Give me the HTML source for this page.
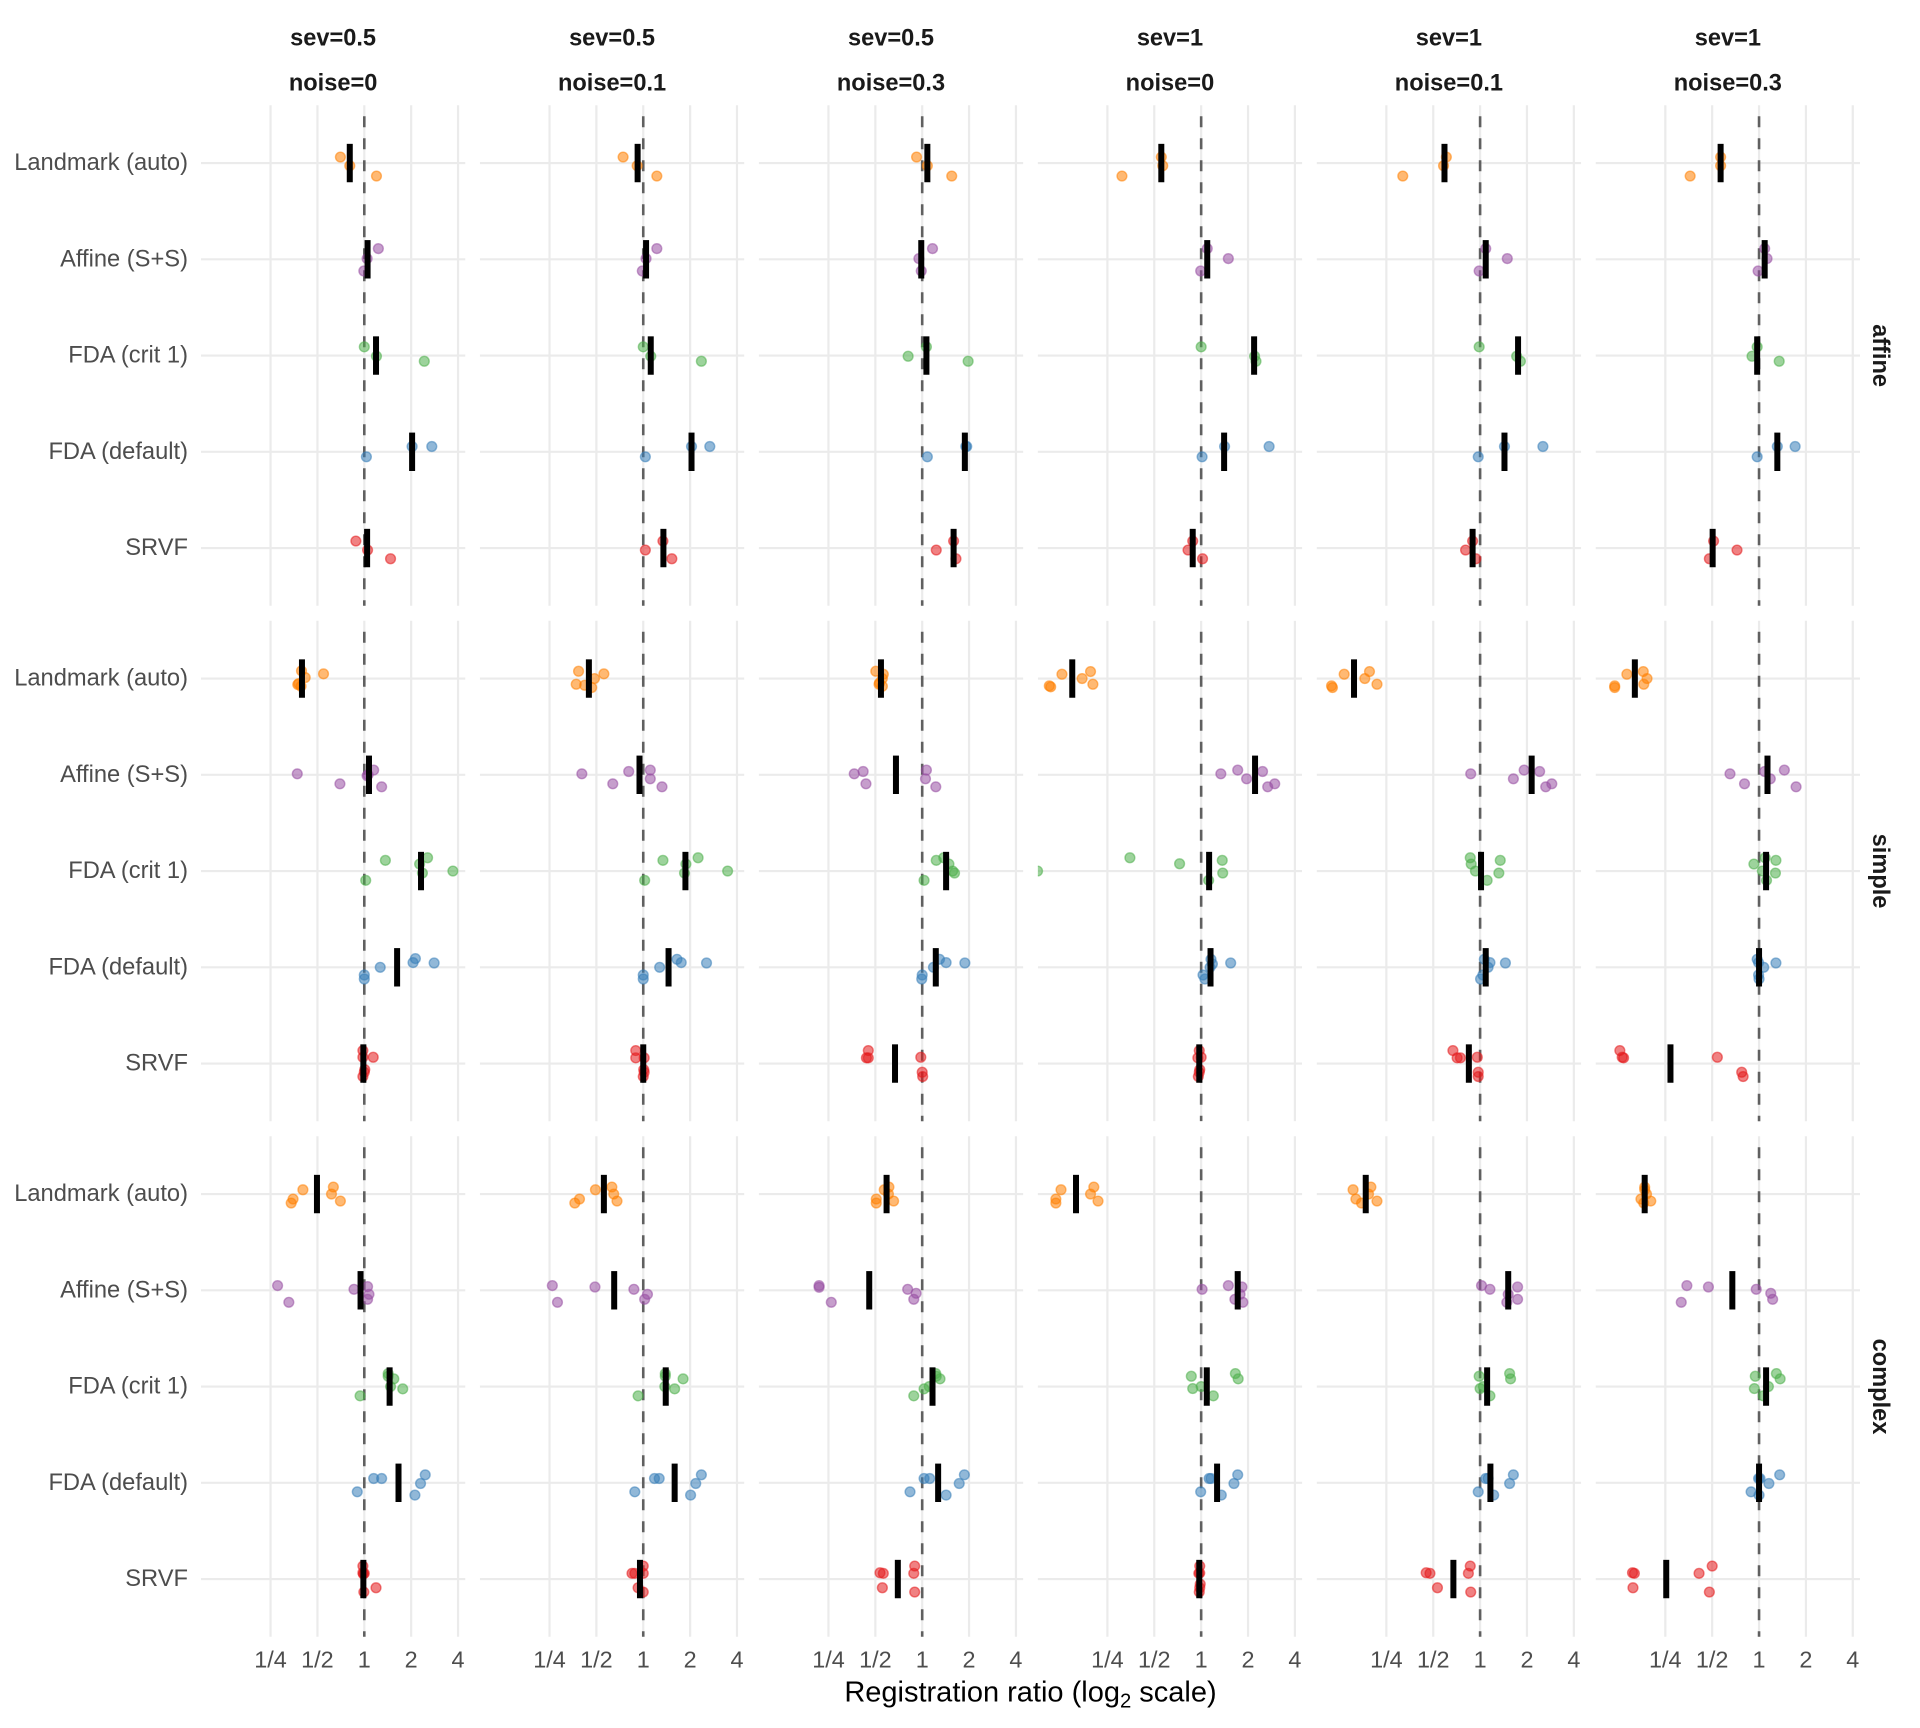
<!DOCTYPE html>
<html>
<head>
<meta charset="utf-8">
<style>
html,body{margin:0;padding:0;background:#fff;}
svg{display:block;font-family:"Liberation Sans",Arial,sans-serif;}
.o{fill:#FF7F00;stroke:#FF7F00;}
.p{fill:#984EA3;stroke:#984EA3;}
.g{fill:#4DAF4A;stroke:#4DAF4A;}
.bl{fill:#377EB8;stroke:#377EB8;}
.r{fill:#E41A1C;stroke:#E41A1C;}
.o,.p,.g,.bl,.r{fill-opacity:.55;stroke-opacity:.55;}
.st{font-weight:bold;font-size:23.6px;fill:#1A1A1A;}
.yl{font-size:23.7px;fill:#4D4D4D;}
.tk{font-size:23.4px;fill:#4D4D4D;}
</style>
</head>
<body>
<svg width="1920" height="1728" viewBox="0 0 1920 1728" xmlns="http://www.w3.org/2000/svg">
<rect width="1920" height="1728" fill="#fff"/>
<defs>
<g id="pg">
<g stroke="#EBEBEB" stroke-width="2.2">
<line x1="-93.74" y1="0" x2="-93.74" y2="500.5"/>
<line x1="-46.87" y1="0" x2="-46.87" y2="500.5"/>
<line x1="0" y1="0" x2="0" y2="500.5"/>
<line x1="46.87" y1="0" x2="46.87" y2="500.5"/>
<line x1="93.74" y1="0" x2="93.74" y2="500.5"/>
<line x1="-163.3" y1="57.75" x2="100.95" y2="57.75"/>
<line x1="-163.3" y1="154" x2="100.95" y2="154"/>
<line x1="-163.3" y1="250.25" x2="100.95" y2="250.25"/>
<line x1="-163.3" y1="346.5" x2="100.95" y2="346.5"/>
<line x1="-163.3" y1="442.75" x2="100.95" y2="442.75"/>
</g>
<line x1="0" y1="0" x2="0" y2="500.5" stroke="#606060" stroke-width="2.6" stroke-dasharray="11 11" stroke-dashoffset="11"/>
</g>
<ellipse id="d" cx="0" cy="0" rx="0.1045" ry="4.9" stroke-width="1.4" vector-effect="non-scaling-stroke"/>
<rect id="b" x="-0.064" y="-19.2" width="0.128" height="38.4" fill="#000"/>
<clipPath id="clp"><rect x="1037.85" y="620.8" width="264.25" height="500.5"/></clipPath>
</defs>

<!-- top strips -->
<g class="st" text-anchor="middle" dominant-baseline="central">
<text x="333.1" y="38.3">sev=0.5</text><text x="333.1" y="83.4">noise=0</text>
<text x="612.05" y="38.3">sev=0.5</text><text x="612.05" y="83.4">noise=0.1</text>
<text x="891" y="38.3">sev=0.5</text><text x="891" y="83.4">noise=0.3</text>
<text x="1169.95" y="38.3">sev=1</text><text x="1169.95" y="83.4">noise=0</text>
<text x="1448.9" y="38.3">sev=1</text><text x="1448.9" y="83.4">noise=0.1</text>
<text x="1727.85" y="38.3">sev=1</text><text x="1727.85" y="83.4">noise=0.3</text>
</g>

<!-- right strips -->
<g class="st" text-anchor="middle" dominant-baseline="central">
<text x="1880" y="355.55" transform="rotate(90 1880 355.55)">affine</text>
<text x="1880" y="871.05" transform="rotate(90 1880 871.05)">simple</text>
<text x="1880" y="1386.55" transform="rotate(90 1880 1386.55)">complex</text>
</g>

<!-- y labels -->
<g class="yl" text-anchor="end" dominant-baseline="central">
<text x="188" y="163.05">Landmark (auto)</text>
<text x="188" y="259.3">Affine (S+S)</text>
<text x="188" y="355.55">FDA (crit 1)</text>
<text x="188" y="451.8">FDA (default)</text>
<text x="188" y="548.05">SRVF</text>
<text x="188" y="678.55">Landmark (auto)</text>
<text x="188" y="774.8">Affine (S+S)</text>
<text x="188" y="871.05">FDA (crit 1)</text>
<text x="188" y="967.3">FDA (default)</text>
<text x="188" y="1063.55">SRVF</text>
<text x="188" y="1194.05">Landmark (auto)</text>
<text x="188" y="1290.3">Affine (S+S)</text>
<text x="188" y="1386.55">FDA (crit 1)</text>
<text x="188" y="1482.8">FDA (default)</text>
<text x="188" y="1579.05">SRVF</text>
</g>

<!-- x tick labels -->
<g class="tk" text-anchor="middle" dominant-baseline="central">
<text x="270.56" y="1659.5">1/4</text><text x="317.43" y="1659.5">1/2</text><text x="364.3" y="1659.5">1</text><text x="411.17" y="1659.5">2</text><text x="458.04" y="1659.5">4</text>
<text x="549.51" y="1659.5">1/4</text><text x="596.38" y="1659.5">1/2</text><text x="643.25" y="1659.5">1</text><text x="690.12" y="1659.5">2</text><text x="736.99" y="1659.5">4</text>
<text x="828.46" y="1659.5">1/4</text><text x="875.33" y="1659.5">1/2</text><text x="922.2" y="1659.5">1</text><text x="969.07" y="1659.5">2</text><text x="1015.94" y="1659.5">4</text>
<text x="1107.41" y="1659.5">1/4</text><text x="1154.28" y="1659.5">1/2</text><text x="1201.15" y="1659.5">1</text><text x="1248.02" y="1659.5">2</text><text x="1294.89" y="1659.5">4</text>
<text x="1386.36" y="1659.5">1/4</text><text x="1433.23" y="1659.5">1/2</text><text x="1480.1" y="1659.5">1</text><text x="1526.97" y="1659.5">2</text><text x="1573.84" y="1659.5">4</text>
<text x="1665.31" y="1659.5">1/4</text><text x="1712.18" y="1659.5">1/2</text><text x="1759.05" y="1659.5">1</text><text x="1805.92" y="1659.5">2</text><text x="1852.79" y="1659.5">4</text>
</g>

<!-- x title -->
<text x="1030.5" y="1701.5" text-anchor="middle" font-size="29" fill="#000">Registration ratio (log<tspan font-size="20.3" dy="6">2</tspan><tspan dy="-6"> scale)</tspan></text>

<!-- ===== ROW 1 (affine) ===== -->
<g transform="translate(364.3,105.3)"><use href="#pg"/>
<g transform="scale(46.87,1)">
<g class="o" transform="translate(0,57.75)"><use href="#d" x="-0.51" y="-6"/><use href="#d" x="-0.31" y="2.7"/><use href="#d" x="0.26" y="13"/></g>
<g class="p" transform="translate(0,154)"><use href="#d" x="0.30" y="-10.7"/><use href="#d" x="0.06" y="-0.7"/><use href="#d" x="-0.01" y="11.7"/></g>
<g class="g" transform="translate(0,250.25)"><use href="#d" x="0" y="-8.7"/><use href="#d" x="0.26" y="0.7"/><use href="#d" x="1.28" y="5.7"/></g>
<g class="bl" transform="translate(0,346.5)"><use href="#d" x="1.02" y="-5.3"/><use href="#d" x="1.44" y="-5.3"/><use href="#d" x="0.045" y="5"/></g>
<g class="r" transform="translate(0,442.75)"><use href="#d" x="-0.18" y="-7"/><use href="#d" x="0.07" y="2"/><use href="#d" x="0.56" y="10.7"/></g>
<use href="#b" x="-0.31" y="57.75"/><use href="#b" x="0.07" y="154"/><use href="#b" x="0.25" y="250.25"/><use href="#b" x="1.02" y="346.5"/><use href="#b" x="0.06" y="442.75"/>
</g></g>

<g transform="translate(643.25,105.3)"><use href="#pg"/>
<g transform="scale(46.87,1)">
<g class="o" transform="translate(0,57.75)"><use href="#d" x="-0.43" y="-6"/><use href="#d" x="-0.13" y="2.7"/><use href="#d" x="0.29" y="13"/></g>
<g class="p" transform="translate(0,154)"><use href="#d" x="0.29" y="-10.7"/><use href="#d" x="0.06" y="-0.7"/><use href="#d" x="-0.02" y="11.7"/></g>
<g class="g" transform="translate(0,250.25)"><use href="#d" x="0" y="-8.7"/><use href="#d" x="0.16" y="0.7"/><use href="#d" x="1.24" y="5.7"/></g>
<g class="bl" transform="translate(0,346.5)"><use href="#d" x="1.03" y="-5.3"/><use href="#d" x="1.42" y="-5.3"/><use href="#d" x="0.045" y="5"/></g>
<g class="r" transform="translate(0,442.75)"><use href="#d" x="0.42" y="-7"/><use href="#d" x="0.045" y="2"/><use href="#d" x="0.61" y="10.7"/></g>
<use href="#b" x="-0.12" y="57.75"/><use href="#b" x="0.06" y="154"/><use href="#b" x="0.16" y="250.25"/><use href="#b" x="1.03" y="346.5"/><use href="#b" x="0.43" y="442.75"/>
</g></g>

<g transform="translate(922.2,105.3)"><use href="#pg"/>
<g transform="scale(46.87,1)">
<g class="o" transform="translate(0,57.75)"><use href="#d" x="-0.12" y="-6"/><use href="#d" x="0.11" y="2.7"/><use href="#d" x="0.63" y="13"/></g>
<g class="p" transform="translate(0,154)"><use href="#d" x="0.22" y="-10.7"/><use href="#d" x="-0.07" y="-0.7"/><use href="#d" x="-0.02" y="11.7"/></g>
<g class="g" transform="translate(0,250.25)"><use href="#d" x="0.09" y="-8.7"/><use href="#d" x="-0.30" y="0.7"/><use href="#d" x="0.98" y="5.7"/></g>
<g class="bl" transform="translate(0,346.5)"><use href="#d" x="0.93" y="-5.3"/><use href="#d" x="0.95" y="-5.3"/><use href="#d" x="0.11" y="5"/></g>
<g class="r" transform="translate(0,442.75)"><use href="#d" x="0.67" y="-7"/><use href="#d" x="0.30" y="2"/><use href="#d" x="0.72" y="10.7"/></g>
<use href="#b" x="0.11" y="57.75"/><use href="#b" x="-0.02" y="154"/><use href="#b" x="0.09" y="250.25"/><use href="#b" x="0.91" y="346.5"/><use href="#b" x="0.67" y="442.75"/>
</g></g>

<g transform="translate(1201.15,105.3)"><use href="#pg"/>
<g transform="scale(46.87,1)">
<g class="o" transform="translate(0,57.75)"><use href="#d" x="-0.85" y="-6"/><use href="#d" x="-0.82" y="2.7"/><use href="#d" x="-1.69" y="13"/></g>
<g class="p" transform="translate(0,154)"><use href="#d" x="0.13" y="-10.7"/><use href="#d" x="0.58" y="-0.7"/><use href="#d" x="-0.01" y="11.7"/></g>
<g class="g" transform="translate(0,250.25)"><use href="#d" x="0" y="-8.7"/><use href="#d" x="1.14" y="0.7"/><use href="#d" x="1.17" y="5.7"/></g>
<g class="bl" transform="translate(0,346.5)"><use href="#d" x="0.50" y="-5.3"/><use href="#d" x="1.45" y="-5.3"/><use href="#d" x="0.02" y="5"/></g>
<g class="r" transform="translate(0,442.75)"><use href="#d" x="-0.18" y="-7"/><use href="#d" x="-0.28" y="2"/><use href="#d" x="0.03" y="10.7"/></g>
<use href="#b" x="-0.85" y="57.75"/><use href="#b" x="0.13" y="154"/><use href="#b" x="1.13" y="250.25"/><use href="#b" x="0.49" y="346.5"/><use href="#b" x="-0.18" y="442.75"/>
</g></g>

<g transform="translate(1480.1,105.3)"><use href="#pg"/>
<g transform="scale(46.87,1)">
<g class="o" transform="translate(0,57.75)"><use href="#d" x="-0.72" y="-6"/><use href="#d" x="-0.78" y="2.7"/><use href="#d" x="-1.65" y="13"/></g>
<g class="p" transform="translate(0,154)"><use href="#d" x="0.12" y="-10.7"/><use href="#d" x="0.58" y="-0.7"/><use href="#d" x="-0.02" y="11.7"/></g>
<g class="g" transform="translate(0,250.25)"><use href="#d" x="-0.02" y="-8.7"/><use href="#d" x="0.78" y="0.7"/><use href="#d" x="0.86" y="5.7"/></g>
<g class="bl" transform="translate(0,346.5)"><use href="#d" x="0.52" y="-5.3"/><use href="#d" x="1.34" y="-5.3"/><use href="#d" x="-0.04" y="5"/></g>
<g class="r" transform="translate(0,442.75)"><use href="#d" x="-0.16" y="-7"/><use href="#d" x="-0.31" y="2"/><use href="#d" x="-0.09" y="10.7"/></g>
<use href="#b" x="-0.76" y="57.75"/><use href="#b" x="0.12" y="154"/><use href="#b" x="0.81" y="250.25"/><use href="#b" x="0.52" y="346.5"/><use href="#b" x="-0.16" y="442.75"/>
</g></g>

<g transform="translate(1759.05,105.3)"><use href="#pg"/>
<g transform="scale(46.87,1)">
<g class="o" transform="translate(0,57.75)"><use href="#d" x="-0.82" y="-6"/><use href="#d" x="-0.82" y="2.7"/><use href="#d" x="-1.47" y="13"/></g>
<g class="p" transform="translate(0,154)"><use href="#d" x="0.12" y="-10.7"/><use href="#d" x="0.17" y="-0.7"/><use href="#d" x="-0.02" y="11.7"/></g>
<g class="g" transform="translate(0,250.25)"><use href="#d" x="-0.04" y="-8.7"/><use href="#d" x="-0.15" y="0.7"/><use href="#d" x="0.43" y="5.7"/></g>
<g class="bl" transform="translate(0,346.5)"><use href="#d" x="0.39" y="-5.3"/><use href="#d" x="0.77" y="-5.3"/><use href="#d" x="-0.04" y="5"/></g>
<g class="r" transform="translate(0,442.75)"><use href="#d" x="-0.97" y="-7"/><use href="#d" x="-0.47" y="2"/><use href="#d" x="-1.06" y="10.7"/></g>
<use href="#b" x="-0.82" y="57.75"/><use href="#b" x="0.12" y="154"/><use href="#b" x="-0.04" y="250.25"/><use href="#b" x="0.39" y="346.5"/><use href="#b" x="-0.99" y="442.75"/>
</g></g>

<!-- ===== ROW 2 (simple) ===== -->
<g transform="translate(364.3,620.8)"><use href="#pg"/>
<g transform="scale(46.87,1)">
<g class="o" transform="translate(0,57.75)"><use href="#d" x="-1.34" y="-7.7"/><use href="#d" x="-1.26" y="-1"/><use href="#d" x="-1.42" y="6"/><use href="#d" x="-1.35" y="7.7"/><use href="#d" x="-0.87" y="-4.7"/><use href="#d" x="-1.40" y="5"/></g>
<g class="p" transform="translate(0,154)"><use href="#d" x="-1.43" y="-1"/><use href="#d" x="-0.52" y="9"/><use href="#d" x="0.20" y="-4.7"/><use href="#d" x="0.08" y="0"/><use href="#d" x="0.37" y="12"/><use href="#d" x="0.06" y="1"/></g>
<g class="g" transform="translate(0,250.25)"><use href="#d" x="0.45" y="-10.7"/><use href="#d" x="1.35" y="-13.3"/><use href="#d" x="1.18" y="-7"/><use href="#d" x="1.24" y="2"/><use href="#d" x="1.89" y="0"/><use href="#d" x="0.03" y="9.3"/></g>
<g class="bl" transform="translate(0,346.5)"><use href="#d" x="0.34" y="0"/><use href="#d" x="1.09" y="-8.7"/><use href="#d" x="1.04" y="-4.7"/><use href="#d" x="1.49" y="-4.3"/><use href="#d" x="0" y="7.7"/><use href="#d" x="0" y="11.7"/></g>
<g class="r" transform="translate(0,442.75)"><use href="#d" x="-0.03" y="-13"/><use href="#d" x="-0.03" y="-6.3"/><use href="#d" x="0.19" y="-6.3"/><use href="#d" x="0" y="8.7"/><use href="#d" x="-0.03" y="13"/><use href="#d" x="0.01" y="6"/></g>
<use href="#b" x="-1.33" y="57.75"/><use href="#b" x="0.10" y="154"/><use href="#b" x="1.21" y="250.25"/><use href="#b" x="0.70" y="346.5"/><use href="#b" x="-0.02" y="442.75"/>
</g></g>

<g transform="translate(643.25,620.8)"><use href="#pg"/>
<g transform="scale(46.87,1)">
<g class="o" transform="translate(0,57.75)"><use href="#d" x="-1.38" y="-7.3"/><use href="#d" x="-0.84" y="-4.7"/><use href="#d" x="-1.04" y="0"/><use href="#d" x="-1.43" y="5.7"/><use href="#d" x="-1.25" y="6.7"/><use href="#d" x="-1.10" y="9"/></g>
<g class="p" transform="translate(0,154)"><use href="#d" x="-1.31" y="-1"/><use href="#d" x="-0.65" y="9"/><use href="#d" x="-0.31" y="-3.3"/><use href="#d" x="0.15" y="-4.7"/><use href="#d" x="0.15" y="4"/><use href="#d" x="0.40" y="12"/></g>
<g class="g" transform="translate(0,250.25)"><use href="#d" x="0.42" y="-10.7"/><use href="#d" x="1.17" y="-13.3"/><use href="#d" x="0.91" y="-7"/><use href="#d" x="0.88" y="2"/><use href="#d" x="1.80" y="0"/><use href="#d" x="0.03" y="9.3"/></g>
<g class="bl" transform="translate(0,346.5)"><use href="#d" x="0.35" y="0"/><use href="#d" x="0.72" y="-8"/><use href="#d" x="0.81" y="-4.7"/><use href="#d" x="1.35" y="-4.3"/><use href="#d" x="0" y="7.7"/><use href="#d" x="0" y="11.7"/></g>
<g class="r" transform="translate(0,442.75)"><use href="#d" x="-0.16" y="-13"/><use href="#d" x="-0.16" y="-5.7"/><use href="#d" x="0.02" y="-5.7"/><use href="#d" x="0.02" y="8.7"/><use href="#d" x="0" y="13"/><use href="#d" x="0.01" y="6"/></g>
<use href="#b" x="-1.16" y="57.75"/><use href="#b" x="-0.08" y="154"/><use href="#b" x="0.90" y="250.25"/><use href="#b" x="0.54" y="346.5"/><use href="#b" x="0" y="442.75"/>
</g></g>

<g transform="translate(922.2,620.8)"><use href="#pg"/>
<g transform="scale(46.87,1)">
<g class="o" transform="translate(0,57.75)"><use href="#d" x="-0.99" y="-7.3"/><use href="#d" x="-0.83" y="-4.3"/><use href="#d" x="-0.85" y="0"/><use href="#d" x="-0.92" y="5.7"/><use href="#d" x="-0.85" y="7.7"/><use href="#d" x="-0.91" y="4.3"/></g>
<g class="p" transform="translate(0,154)"><use href="#d" x="-1.45" y="-1"/><use href="#d" x="-1.20" y="9"/><use href="#d" x="-1.26" y="-3.3"/><use href="#d" x="0.09" y="-4.7"/><use href="#d" x="0.07" y="4"/><use href="#d" x="0.29" y="12"/></g>
<g class="g" transform="translate(0,250.25)"><use href="#d" x="0.30" y="-10.7"/><use href="#d" x="0.46" y="-13.3"/><use href="#d" x="0.57" y="-7"/><use href="#d" x="0.69" y="2"/><use href="#d" x="0.65" y="0"/><use href="#d" x="0.04" y="9.3"/></g>
<g class="bl" transform="translate(0,346.5)"><use href="#d" x="0.24" y="0"/><use href="#d" x="0.37" y="-8"/><use href="#d" x="0.51" y="-4.7"/><use href="#d" x="0.91" y="-4.3"/><use href="#d" x="0" y="7.7"/><use href="#d" x="-0.01" y="11.7"/></g>
<g class="r" transform="translate(0,442.75)"><use href="#d" x="-1.15" y="-13"/><use href="#d" x="-1.19" y="-5.7"/><use href="#d" x="-1.15" y="-5.7"/><use href="#d" x="-0.03" y="-6.3"/><use href="#d" x="0" y="8.7"/><use href="#d" x="0.01" y="13"/></g>
<use href="#b" x="-0.88" y="57.75"/><use href="#b" x="-0.56" y="154"/><use href="#b" x="0.51" y="250.25"/><use href="#b" x="0.29" y="346.5"/><use href="#b" x="-0.58" y="442.75"/>
</g></g>

<g clip-path="url(#clp)">
<g transform="translate(1201.15,620.8)"><use href="#pg"/>
<g transform="scale(46.87,1)">
<g class="o" transform="translate(0,57.75)"><use href="#d" x="-2.97" y="-4.3"/><use href="#d" x="-2.54" y="0"/><use href="#d" x="-2.36" y="-7"/><use href="#d" x="-2.31" y="5.7"/><use href="#d" x="-3.24" y="7.3"/><use href="#d" x="-3.21" y="8.3"/></g>
<g class="p" transform="translate(0,154)"><use href="#d" x="0.42" y="-1"/><use href="#d" x="0.78" y="-4.7"/><use href="#d" x="0.97" y="4"/><use href="#d" x="1.31" y="-3.3"/><use href="#d" x="1.42" y="12"/><use href="#d" x="1.57" y="9"/></g>
<g class="g" transform="translate(0,250.25)"><use href="#d" x="-3.49" y="0"/><use href="#d" x="-1.52" y="-13.3"/><use href="#d" x="-0.46" y="-7.3"/><use href="#d" x="0.45" y="-10.7"/><use href="#d" x="0.46" y="2"/><use href="#d" x="0.16" y="9.3"/></g>
<g class="bl" transform="translate(0,346.5)"><use href="#d" x="0.21" y="-8"/><use href="#d" x="0.24" y="-3.3"/><use href="#d" x="0.63" y="-4.3"/><use href="#d" x="0.04" y="7.7"/><use href="#d" x="0.08" y="11.7"/><use href="#d" x="0.19" y="0"/></g>
<g class="r" transform="translate(0,442.75)"><use href="#d" x="-0.04" y="-13"/><use href="#d" x="0" y="-6.3"/><use href="#d" x="-0.07" y="-5.7"/><use href="#d" x="-0.04" y="8.7"/><use href="#d" x="-0.06" y="13"/><use href="#d" x="-0.03" y="6"/></g>
<use href="#b" x="-2.75" y="57.75"/><use href="#b" x="1.15" y="154"/><use href="#b" x="0.17" y="250.25"/><use href="#b" x="0.20" y="346.5"/><use href="#b" x="-0.04" y="442.75"/>
</g></g>
</g>

<g transform="translate(1480.1,620.8)"><use href="#pg"/>
<g transform="scale(46.87,1)">
<g class="o" transform="translate(0,57.75)"><use href="#d" x="-2.90" y="-4.3"/><use href="#d" x="-2.46" y="0"/><use href="#d" x="-2.36" y="-7"/><use href="#d" x="-2.20" y="5.7"/><use href="#d" x="-3.17" y="7.3"/><use href="#d" x="-3.15" y="9"/></g>
<g class="p" transform="translate(0,154)"><use href="#d" x="-0.20" y="-1"/><use href="#d" x="0.94" y="-4.7"/><use href="#d" x="0.71" y="4"/><use href="#d" x="1.27" y="-3.3"/><use href="#d" x="1.40" y="12"/><use href="#d" x="1.53" y="9"/></g>
<g class="g" transform="translate(0,250.25)"><use href="#d" x="-0.21" y="-13.3"/><use href="#d" x="-0.19" y="-7"/><use href="#d" x="0.43" y="-10.7"/><use href="#d" x="0.40" y="2"/><use href="#d" x="-0.10" y="0"/><use href="#d" x="0.15" y="9.3"/></g>
<g class="bl" transform="translate(0,346.5)"><use href="#d" x="0.09" y="-8"/><use href="#d" x="0.21" y="-4.7"/><use href="#d" x="0.54" y="-4.3"/><use href="#d" x="0.01" y="11.7"/><use href="#d" x="0.06" y="7.7"/><use href="#d" x="0.17" y="0"/></g>
<g class="r" transform="translate(0,442.75)"><use href="#d" x="-0.58" y="-13"/><use href="#d" x="-0.49" y="-5.7"/><use href="#d" x="-0.42" y="-5.7"/><use href="#d" x="-0.06" y="-6.3"/><use href="#d" x="-0.04" y="8.7"/><use href="#d" x="-0.04" y="13"/></g>
<use href="#b" x="-2.69" y="57.75"/><use href="#b" x="1.10" y="154"/><use href="#b" x="0.02" y="250.25"/><use href="#b" x="0.12" y="346.5"/><use href="#b" x="-0.24" y="442.75"/>
</g></g>

<g transform="translate(1759.05,620.8)"><use href="#pg"/>
<g transform="scale(46.87,1)">
<g class="o" transform="translate(0,57.75)"><use href="#d" x="-2.82" y="-4.3"/><use href="#d" x="-2.47" y="-7"/><use href="#d" x="-2.39" y="0"/><use href="#d" x="-2.46" y="5.7"/><use href="#d" x="-3.08" y="7.3"/><use href="#d" x="-3.08" y="9"/></g>
<g class="p" transform="translate(0,154)"><use href="#d" x="-0.62" y="-1"/><use href="#d" x="-0.31" y="9"/><use href="#d" x="0.12" y="-3.3"/><use href="#d" x="0.24" y="4"/><use href="#d" x="0.54" y="-4.7"/><use href="#d" x="0.79" y="12"/></g>
<g class="g" transform="translate(0,250.25)"><use href="#d" x="0.13" y="-13.3"/><use href="#d" x="-0.11" y="-7"/><use href="#d" x="0.36" y="-10.7"/><use href="#d" x="0.35" y="2"/><use href="#d" x="0.07" y="0"/><use href="#d" x="0.16" y="9.3"/></g>
<g class="bl" transform="translate(0,346.5)"><use href="#d" x="-0.04" y="-8"/><use href="#d" x="-0.01" y="-4.7"/><use href="#d" x="0.36" y="-4.3"/><use href="#d" x="0.10" y="0"/><use href="#d" x="-0.01" y="7.7"/><use href="#d" x="0" y="11.7"/></g>
<g class="r" transform="translate(0,442.75)"><use href="#d" x="-2.97" y="-13"/><use href="#d" x="-2.92" y="-6.3"/><use href="#d" x="-2.89" y="-5.7"/><use href="#d" x="-0.89" y="-6.3"/><use href="#d" x="-0.37" y="8.7"/><use href="#d" x="-0.34" y="13"/></g>
<use href="#b" x="-2.65" y="57.75"/><use href="#b" x="0.18" y="154"/><use href="#b" x="0.15" y="250.25"/><use href="#b" x="0" y="346.5"/><use href="#b" x="-1.89" y="442.75"/>
</g></g>

<!-- ===== ROW 3 (complex) ===== -->
<g transform="translate(364.3,1136.3)"><use href="#pg"/>
<g transform="scale(46.87,1)">
<g class="o" transform="translate(0,57.75)"><use href="#d" x="-1.31" y="-4.3"/><use href="#d" x="-0.66" y="-7"/><use href="#d" x="-0.70" y="0"/><use href="#d" x="-0.51" y="7"/><use href="#d" x="-1.52" y="5"/><use href="#d" x="-1.56" y="9"/></g>
<g class="p" transform="translate(0,154)"><use href="#d" x="-1.85" y="-4.7"/><use href="#d" x="-1.61" y="12"/><use href="#d" x="-0.22" y="-1"/><use href="#d" x="0.07" y="-3.7"/><use href="#d" x="0.10" y="4"/><use href="#d" x="0.07" y="9"/></g>
<g class="g" transform="translate(0,250.25)"><use href="#d" x="0.51" y="-13"/><use href="#d" x="0.63" y="-7.7"/><use href="#d" x="0.56" y="0"/><use href="#d" x="0.82" y="2.3"/><use href="#d" x="-0.09" y="9.3"/><use href="#d" x="0.51" y="-10.3"/></g>
<g class="bl" transform="translate(0,346.5)"><use href="#d" x="0.20" y="-4.3"/><use href="#d" x="0.37" y="-4.3"/><use href="#d" x="1.30" y="-8"/><use href="#d" x="1.20" y="0.7"/><use href="#d" x="1.08" y="12.3"/><use href="#d" x="-0.15" y="9"/></g>
<g class="r" transform="translate(0,442.75)"><use href="#d" x="-0.03" y="-13"/><use href="#d" x="-0.03" y="-6.3"/><use href="#d" x="0" y="-5.7"/><use href="#d" x="0.25" y="8.7"/><use href="#d" x="-0.01" y="13"/><use href="#d" x="-0.02" y="-5"/></g>
<use href="#b" x="-1.01" y="57.75"/><use href="#b" x="-0.08" y="154"/><use href="#b" x="0.54" y="250.25"/><use href="#b" x="0.73" y="346.5"/><use href="#b" x="-0.02" y="442.75"/>
</g></g>

<g transform="translate(643.25,1136.3)"><use href="#pg"/>
<g transform="scale(46.87,1)">
<g class="o" transform="translate(0,57.75)"><use href="#d" x="-1.02" y="-4.3"/><use href="#d" x="-0.67" y="-7"/><use href="#d" x="-0.63" y="0"/><use href="#d" x="-0.56" y="7"/><use href="#d" x="-1.36" y="5"/><use href="#d" x="-1.46" y="9"/></g>
<g class="p" transform="translate(0,154)"><use href="#d" x="-1.94" y="-4.7"/><use href="#d" x="-1.83" y="12"/><use href="#d" x="-1.03" y="-3.3"/><use href="#d" x="-0.20" y="-1"/><use href="#d" x="0.09" y="4"/><use href="#d" x="0.03" y="9"/></g>
<g class="g" transform="translate(0,250.25)"><use href="#d" x="0.47" y="-13"/><use href="#d" x="0.85" y="-7.7"/><use href="#d" x="0.46" y="0"/><use href="#d" x="0.67" y="2.3"/><use href="#d" x="-0.11" y="9.3"/><use href="#d" x="0.47" y="-10.3"/></g>
<g class="bl" transform="translate(0,346.5)"><use href="#d" x="0.24" y="-4.3"/><use href="#d" x="0.34" y="-4.3"/><use href="#d" x="1.24" y="-8"/><use href="#d" x="1.12" y="0.7"/><use href="#d" x="1.01" y="12.3"/><use href="#d" x="-0.18" y="9"/></g>
<g class="r" transform="translate(0,442.75)"><use href="#d" x="0" y="-13"/><use href="#d" x="-0.24" y="-5.7"/><use href="#d" x="0" y="-5.7"/><use href="#d" x="-0.11" y="8.7"/><use href="#d" x="0" y="13"/><use href="#d" x="-0.18" y="-5.7"/></g>
<use href="#b" x="-0.84" y="57.75"/><use href="#b" x="-0.62" y="154"/><use href="#b" x="0.48" y="250.25"/><use href="#b" x="0.67" y="346.5"/><use href="#b" x="-0.07" y="442.75"/>
</g></g>

<g transform="translate(922.2,1136.3)"><use href="#pg"/>
<g transform="scale(46.87,1)">
<g class="o" transform="translate(0,57.75)"><use href="#d" x="-0.81" y="-4.3"/><use href="#d" x="-0.71" y="-7"/><use href="#d" x="-0.72" y="0"/><use href="#d" x="-0.61" y="7"/><use href="#d" x="-0.98" y="5"/><use href="#d" x="-0.98" y="9"/></g>
<g class="p" transform="translate(0,154)"><use href="#d" x="-2.20" y="-4.7"/><use href="#d" x="-2.20" y="-3"/><use href="#d" x="-1.94" y="12"/><use href="#d" x="-0.31" y="-1"/><use href="#d" x="-0.13" y="3"/><use href="#d" x="-0.18" y="9"/></g>
<g class="g" transform="translate(0,250.25)"><use href="#d" x="0.29" y="-13"/><use href="#d" x="0.38" y="-7.7"/><use href="#d" x="0.15" y="0"/><use href="#d" x="0.04" y="2.3"/><use href="#d" x="-0.18" y="9.3"/><use href="#d" x="0.30" y="-10.3"/></g>
<g class="bl" transform="translate(0,346.5)"><use href="#d" x="0.04" y="-4.3"/><use href="#d" x="0.16" y="-4.3"/><use href="#d" x="0.90" y="-8"/><use href="#d" x="0.79" y="0.7"/><use href="#d" x="0.51" y="12.3"/><use href="#d" x="-0.26" y="9"/></g>
<g class="r" transform="translate(0,442.75)"><use href="#d" x="-0.16" y="-13"/><use href="#d" x="-0.90" y="-6.3"/><use href="#d" x="-0.83" y="-5.7"/><use href="#d" x="-0.18" y="-5.7"/><use href="#d" x="-0.85" y="8.7"/><use href="#d" x="-0.16" y="13"/></g>
<use href="#b" x="-0.76" y="57.75"/><use href="#b" x="-1.13" y="154"/><use href="#b" x="0.22" y="250.25"/><use href="#b" x="0.34" y="346.5"/><use href="#b" x="-0.52" y="442.75"/>
</g></g>

<g transform="translate(1201.15,1136.3)"><use href="#pg"/>
<g transform="scale(46.87,1)">
<g class="o" transform="translate(0,57.75)"><use href="#d" x="-2.99" y="-4.3"/><use href="#d" x="-2.29" y="-7"/><use href="#d" x="-2.36" y="0"/><use href="#d" x="-2.20" y="7"/><use href="#d" x="-3.10" y="5"/><use href="#d" x="-3.10" y="9"/></g>
<g class="p" transform="translate(0,154)"><use href="#d" x="0.02" y="-1"/><use href="#d" x="0.58" y="-4.7"/><use href="#d" x="0.87" y="-3.3"/><use href="#d" x="0.83" y="4"/><use href="#d" x="0.72" y="9"/><use href="#d" x="0.89" y="12"/></g>
<g class="g" transform="translate(0,250.25)"><use href="#d" x="-0.21" y="-10.3"/><use href="#d" x="0.73" y="-13"/><use href="#d" x="0.79" y="-7.7"/><use href="#d" x="-0.18" y="2"/><use href="#d" x="0" y="0"/><use href="#d" x="0.26" y="9.3"/></g>
<g class="bl" transform="translate(0,346.5)"><use href="#d" x="0.17" y="-4.3"/><use href="#d" x="0.21" y="-4.3"/><use href="#d" x="0.78" y="-8"/><use href="#d" x="0.70" y="0.7"/><use href="#d" x="0.43" y="12.3"/><use href="#d" x="-0.01" y="9"/></g>
<g class="r" transform="translate(0,442.75)"><use href="#d" x="-0.03" y="-13"/><use href="#d" x="-0.03" y="-6"/><use href="#d" x="-0.05" y="-5.7"/><use href="#d" x="-0.03" y="8.7"/><use href="#d" x="-0.04" y="13"/><use href="#d" x="-0.02" y="5"/></g>
<use href="#b" x="-2.67" y="57.75"/><use href="#b" x="0.78" y="154"/><use href="#b" x="0.12" y="250.25"/><use href="#b" x="0.34" y="346.5"/><use href="#b" x="-0.04" y="442.75"/>
</g></g>

<g transform="translate(1480.1,1136.3)"><use href="#pg"/>
<g transform="scale(46.87,1)">
<g class="o" transform="translate(0,57.75)"><use href="#d" x="-2.71" y="-4.3"/><use href="#d" x="-2.33" y="-7"/><use href="#d" x="-2.38" y="0"/><use href="#d" x="-2.20" y="7"/><use href="#d" x="-2.65" y="5"/><use href="#d" x="-2.53" y="9"/></g>
<g class="p" transform="translate(0,154)"><use href="#d" x="0.03" y="-4.7"/><use href="#d" x="0.21" y="-1"/><use href="#d" x="0.80" y="-3.3"/><use href="#d" x="0.80" y="9"/><use href="#d" x="0.57" y="12"/><use href="#d" x="0.60" y="4"/></g>
<g class="g" transform="translate(0,250.25)"><use href="#d" x="-0.02" y="-10.3"/><use href="#d" x="0.63" y="-13"/><use href="#d" x="0.65" y="-7.7"/><use href="#d" x="0" y="2"/><use href="#d" x="0.07" y="0"/><use href="#d" x="0.21" y="9.3"/></g>
<g class="bl" transform="translate(0,346.5)"><use href="#d" x="0.12" y="-4.3"/><use href="#d" x="0.17" y="-4.3"/><use href="#d" x="0.71" y="-8"/><use href="#d" x="0.63" y="0.7"/><use href="#d" x="0.29" y="12.3"/><use href="#d" x="-0.04" y="9"/></g>
<g class="r" transform="translate(0,442.75)"><use href="#d" x="-0.21" y="-13"/><use href="#d" x="-1.15" y="-6.3"/><use href="#d" x="-1.07" y="-5.7"/><use href="#d" x="-0.25" y="-5.7"/><use href="#d" x="-0.91" y="8.7"/><use href="#d" x="-0.20" y="13"/></g>
<use href="#b" x="-2.44" y="57.75"/><use href="#b" x="0.60" y="154"/><use href="#b" x="0.15" y="250.25"/><use href="#b" x="0.22" y="346.5"/><use href="#b" x="-0.57" y="442.75"/>
</g></g>

<g transform="translate(1759.05,1136.3)"><use href="#pg"/>
<g transform="scale(46.87,1)">
<g class="o" transform="translate(0,57.75)"><use href="#d" x="-2.44" y="-4.3"/><use href="#d" x="-2.44" y="-7"/><use href="#d" x="-2.40" y="0"/><use href="#d" x="-2.31" y="7"/><use href="#d" x="-2.52" y="5"/><use href="#d" x="-2.46" y="9"/></g>
<g class="p" transform="translate(0,154)"><use href="#d" x="-1.54" y="-4.7"/><use href="#d" x="-1.08" y="-3.3"/><use href="#d" x="-1.66" y="12"/><use href="#d" x="-0.06" y="-1"/><use href="#d" x="0.25" y="3"/><use href="#d" x="0.29" y="9"/></g>
<g class="g" transform="translate(0,250.25)"><use href="#d" x="-0.08" y="-10.3"/><use href="#d" x="0.37" y="-13"/><use href="#d" x="0.45" y="-7.7"/><use href="#d" x="-0.10" y="2"/><use href="#d" x="0.20" y="0"/><use href="#d" x="0.09" y="9.3"/></g>
<g class="bl" transform="translate(0,346.5)"><use href="#d" x="-0.01" y="-4.3"/><use href="#d" x="0.02" y="-4.3"/><use href="#d" x="0.44" y="-8"/><use href="#d" x="0.21" y="0.7"/><use href="#d" x="0" y="12.3"/><use href="#d" x="-0.17" y="9"/></g>
<g class="r" transform="translate(0,442.75)"><use href="#d" x="-1.00" y="-13"/><use href="#d" x="-2.70" y="-6.3"/><use href="#d" x="-2.66" y="-5.7"/><use href="#d" x="-1.28" y="-5.7"/><use href="#d" x="-2.69" y="8.7"/><use href="#d" x="-1.06" y="13"/></g>
<use href="#b" x="-2.44" y="57.75"/><use href="#b" x="-0.57" y="154"/><use href="#b" x="0.15" y="250.25"/><use href="#b" x="0" y="346.5"/><use href="#b" x="-1.98" y="442.75"/>
</g></g>

</svg>
</body>
</html>
